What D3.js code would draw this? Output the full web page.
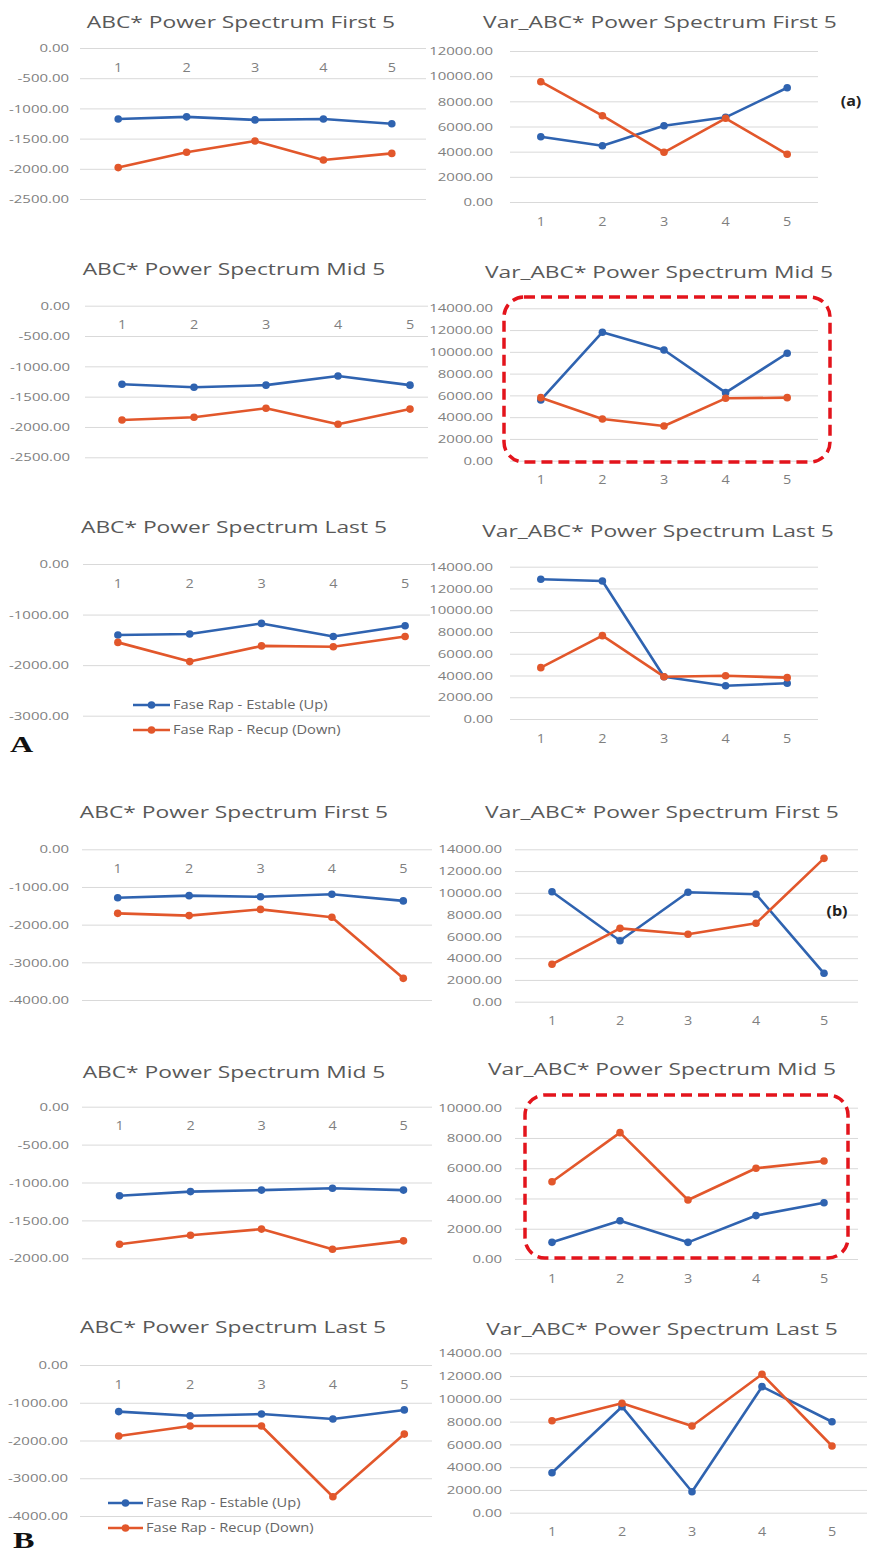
<!DOCTYPE html>
<html>
<head>
<meta charset="utf-8">
<script src="https://cdn.jsdelivr.net/npm/d3@7"></script>
<style>
  body { margin: 0; background: #fff; }
  svg { display: block; font-family: "Open Sans", sans-serif; }
</style>
</head>
<body>
<div id="chart"></div>
<script>
// categories and series
const categories = [1, 2, 3, 4, 5];
const seriesNames = ["Fase Rap - Estable (Up)", "Fase Rap - Recup (Down)"];
const seriesColors = ["#2f63b0", "#e2572b"];

// A: ABC* (left) and Var_ABC* (right)
const aAbsFirstUp   = [-1175, -1140, -1190, -1175, -1255];
const aAbsFirstDown = [-1980, -1725, -1540, -1855, -1745];
const aVarFirstUp   = [5190, 4470, 6060, 6730, 9080];
const aVarFirstDown = [9560, 6860, 3950, 6650, 3790];
const aAbsMidUp     = [-1295, -1345, -1310, -1160, -1310];
const aAbsMidDown   = [-1885, -1840, -1690, -1955, -1705];
const aVarMidUp     = [5580, 11800, 10170, 6250, 9870];
const aVarMidDown   = [5790, 3830, 3190, 5730, 5790];
const aAbsLastUp    = [-1405, -1385, -1175, -1435, -1220];
const aAbsLastDown  = [-1550, -1930, -1620, -1635, -1435];
const aVarLastUp    = [12840, 12690, 3890, 3060, 3280];
const aVarLastDown  = [4720, 7660, 3890, 3980, 3800];

// B
const bAbsFirstUp   = [-1285, -1230, -1260, -1195, -1370];
const bAbsFirstDown = [-1700, -1760, -1595, -1805, -3425];
const bVarFirstUp   = [10100, 5600, 10050, 9870, 2610];
const bVarFirstDown = [3440, 6740, 6190, 7200, 13170];
const bAbsMidUp     = [-1175, -1120, -1100, -1075, -1100];
const bAbsMidDown   = [-1815, -1695, -1615, -1880, -1770];
const bVarMidUp     = [1100, 2530, 1100, 2870, 3720];
const bVarMidDown   = [5110, 8350, 3900, 6000, 6480];
const bAbsLastUp    = [-1235, -1345, -1300, -1430, -1190];
const bAbsLastDown  = [-1880, -1615, -1615, -3490, -1830];
const bVarLastUp    = [3510, 9310, 1840, 11070, 7990];
const bVarLastDown  = [8080, 9610, 7620, 12160, 5860];

// tick values
const ticksNeg2500 = [0, -500, -1000, -1500, -2000, -2500];
const ticksNeg2000 = [0, -500, -1000, -1500, -2000];
const ticksNeg3000 = [0, -1000, -2000, -3000];
const ticksNeg4000 = [0, -1000, -2000, -3000, -4000];
const ticks10000 = [0, 2000, 4000, 6000, 8000, 10000];
const ticks12000 = [0, 2000, 4000, 6000, 8000, 10000, 12000];
const ticks14000 = [0, 2000, 4000, 6000, 8000, 10000, 12000, 14000];

const W = 869, H = 1552;

// panel layout: title pos, band range, grid range, pixel y for top/bottom of domain, label x
const panels = [
  { title: "ABC* Power Spectrum First 5", tx: 241, ty: 28, band: [84, 426], grid: [80, 426], yTop: 48, yBot: 199, lx: 69, ticks: ticksNeg2500, series: [aAbsFirstUp, aAbsFirstDown] },
  { title: "Var_ABC* Power Spectrum First 5", tx: 660, ty: 28, band: [510, 818], grid: [510, 818], yTop: 51, yBot: 202, lx: 493, ticks: ticks12000, series: [aVarFirstUp, aVarFirstDown] },
  { title: "ABC* Power Spectrum Mid 5", tx: 234, ty: 275, band: [86, 446], grid: [85, 428], yTop: 305.7, yBot: 457.3, lx: 70, ticks: ticksNeg2500, series: [aAbsMidUp, aAbsMidDown] },
  { title: "Var_ABC* Power Spectrum Mid 5", tx: 659, ty: 278, band: [510, 818], grid: [510, 818], yTop: 308.3, yBot: 460.7, lx: 493, ticks: ticks14000, series: [aVarMidUp, aVarMidDown], box: [504, 297, 830, 462] },
  { title: "ABC* Power Spectrum Last 5", tx: 234, ty: 533, band: [82, 441], grid: [83, 430], yTop: 564, yBot: 715.7, lx: 69, ticks: ticksNeg3000, series: [aAbsLastUp, aAbsLastDown], legend: { x0: 133, x1: 170, tx: 173, y: 705, dy: 25 } },
  { title: "Var_ABC* Power Spectrum Last 5", tx: 658, ty: 537, band: [510, 818], grid: [510, 818], yTop: 566.7, yBot: 719, lx: 493, ticks: ticks14000, series: [aVarLastUp, aVarLastDown] },
  { title: "ABC* Power Spectrum First 5", tx: 234, ty: 818, band: [82, 439], grid: [82, 432], yTop: 849.3, yBot: 1000, lx: 69, ticks: ticksNeg4000, series: [bAbsFirstUp, bAbsFirstDown] },
  { title: "Var_ABC* Power Spectrum First 5", tx: 662, ty: 818, band: [518, 858], grid: [515, 858], yTop: 849.3, yBot: 1001.7, lx: 502, ticks: ticks14000, series: [bVarFirstUp, bVarFirstDown] },
  { title: "ABC* Power Spectrum Mid 5", tx: 234, ty: 1078, band: [84, 439], grid: [82, 432], yTop: 1106.7, yBot: 1258.3, lx: 69, ticks: ticksNeg2000, series: [bAbsMidUp, bAbsMidDown] },
  { title: "Var_ABC* Power Spectrum Mid 5", tx: 662, ty: 1075, band: [518, 858], grid: [515, 858], yTop: 1107.7, yBot: 1259, lx: 502, ticks: ticks10000, series: [bVarMidUp, bVarMidDown], box: [525, 1095, 848, 1258] },
  { title: "ABC* Power Spectrum Last 5", tx: 233, ty: 1333, band: [83, 440], grid: [80, 432], yTop: 1365, yBot: 1516, lx: 68, ticks: ticksNeg4000, series: [bAbsLastUp, bAbsLastDown], legend: { x0: 108, x1: 143, tx: 146, y: 1503, dy: 25 } },
  { title: "Var_ABC* Power Spectrum Last 5", tx: 662, ty: 1335, band: [517, 867], grid: [510, 867], yTop: 1353.3, yBot: 1512.7, lx: 502, ticks: ticks14000, series: [bVarLastUp, bVarLastDown] }
];

const svg = d3.select("#chart").append("svg")
  .attr("width", W)
  .attr("height", H);

// the source figure is stretched sideways, so widen glyphs a bit
function stretch(sel, k) {
  sel.each(function () {
    const len = this.getComputedTextLength();
    d3.select(this).attr("textLength", len * k).attr("lengthAdjust", "spacingAndGlyphs");
  });
}

panels.forEach(p => {
  const g = svg.append("g");
  const lo = d3.min(p.ticks), hi = d3.max(p.ticks);

  const x = d3.scaleBand().domain(categories).range(p.band);
  const y = d3.scaleLinear().domain([lo, hi]).range([p.yBot, p.yTop]);

  // gridlines
  g.append("g")
    .attr("transform", `translate(${p.grid[0]},0)`)
    .call(d3.axisLeft(y).tickValues(p.ticks).tickSize(-(p.grid[1] - p.grid[0])).tickFormat(""))
    .call(a => a.select(".domain").remove())
    .call(a => a.selectAll("line").attr("stroke", "#d9d9d9"));

  // y tick labels
  g.append("g")
    .attr("transform", `translate(${p.grid[0]},0)`)
    .call(d3.axisLeft(y).tickValues(p.ticks).tickSize(0).tickPadding(p.grid[0] - p.lx)
      .tickFormat(d => d.toFixed(2)))
    .call(a => a.select(".domain").remove())
    .call(a => a.selectAll("text")
      .attr("font-family", "Open Sans, sans-serif")
      .attr("font-size", 11.5)
      .attr("fill", "#7f7f7f")
      .call(stretch, 1.3));

  // category labels sit under the zero line
  g.append("g")
    .attr("transform", `translate(0,${y(0)})`)
    .call(d3.axisBottom(x).tickSize(0).tickPadding(15))
    .call(a => a.select(".domain").remove())
    .call(a => a.selectAll("text")
      .attr("font-family", "Open Sans, sans-serif")
      .attr("font-size", 12)
      .attr("fill", "#7f7f7f")
      .call(stretch, 1.2));

  // title
  g.append("text")
    .attr("x", p.tx)
    .attr("y", p.ty)
    .attr("text-anchor", "middle")
    .attr("font-size", 17)
    .attr("fill", "#595959")
    .text(p.title)
    .call(stretch, 1.34);

  const line = d3.line()
    .x((d, i) => x(categories[i]) + x.bandwidth() / 2)
    .y(d => y(d));

  p.series.forEach((vals, si) => {
    g.append("path")
      .datum(vals)
      .attr("fill", "none")
      .attr("stroke", seriesColors[si])
      .attr("stroke-width", 2.6)
      .attr("stroke-linejoin", "round")
      .attr("d", line);
    g.append("g").selectAll("circle")
      .data(vals)
      .join("circle")
      .attr("cx", (d, i) => x(categories[i]) + x.bandwidth() / 2)
      .attr("cy", d => y(d))
      .attr("r", 3.8)
      .attr("fill", seriesColors[si]);
  });

  if (p.box) {
    g.append("rect")
      .attr("x", p.box[0]).attr("y", p.box[1])
      .attr("width", p.box[2] - p.box[0]).attr("height", p.box[3] - p.box[1])
      .attr("rx", 20).attr("ry", 20)
      .attr("fill", "none")
      .attr("stroke", "#e3141c")
      .attr("stroke-width", 3.5)
      .attr("stroke-dasharray", "11 6");
  }

  if (p.legend) {
    const L = p.legend;
    seriesNames.forEach((name, si) => {
      const ly = L.y + si * L.dy;
      g.append("line")
        .attr("x1", L.x0).attr("x2", L.x1)
        .attr("y1", ly).attr("y2", ly)
        .attr("stroke", seriesColors[si]).attr("stroke-width", 2.6);
      g.append("circle")
        .attr("cx", (L.x0 + L.x1) / 2).attr("cy", ly).attr("r", 3.8)
        .attr("fill", seriesColors[si]);
      g.append("text")
        .attr("x", L.tx).attr("y", ly).attr("dy", "0.35em")
        .attr("font-size", 12)
        .attr("fill", "#666")
        .text(name)
        .call(stretch, 1.22);
    });
  }
});

// panel letters and tags
svg.append("text").attr("x", 10).attr("y", 752)
  .attr("font-family", "Liberation Serif, serif").attr("font-weight", "bold")
  .attr("font-size", 23).attr("fill", "#111").text("A")
  .call(stretch, 1.4);
svg.append("text").attr("x", 13).attr("y", 1548)
  .attr("font-family", "Liberation Serif, serif").attr("font-weight", "bold")
  .attr("font-size", 23).attr("fill", "#111").text("B")
  .call(stretch, 1.4);

svg.append("text").attr("x", 851).attr("y", 101).attr("dy", "0.35em")
  .attr("text-anchor", "middle").attr("font-weight", "bold")
  .attr("font-size", 14).attr("fill", "#222").text("(a)")
  .call(stretch, 1.15);
svg.append("text").attr("x", 837).attr("y", 911).attr("dy", "0.35em")
  .attr("text-anchor", "middle").attr("font-weight", "bold")
  .attr("font-size", 14).attr("fill", "#222").text("(b)")
  .call(stretch, 1.15);
</script>
</body>
</html>
